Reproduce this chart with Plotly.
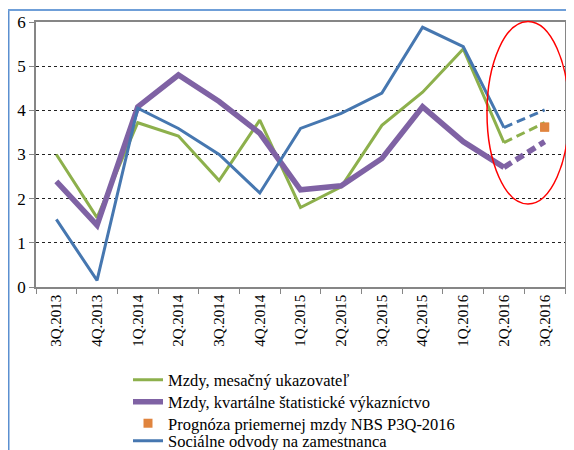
import plotly.graph_objects as go

quarters = ["3Q.2013", "4Q.2013", "1Q.2014", "2Q.2014", "3Q.2014", "4Q.2014",
            "1Q.2015", "2Q.2015", "3Q.2015", "4Q.2015", "1Q.2016", "2Q.2016", "3Q.2016"]

mzdy_mesacny = [3.0, 1.57, 3.72, 3.42, 2.41, 3.78, 1.8, 2.27, 3.66, 4.41, 5.39, 3.27, 3.72]
mzdy_kvartalne = [2.39, 1.4, 4.08, 4.8, 4.2, 3.48, 2.2, 2.29, 2.91, 4.08, 3.29, 2.71, 3.29]
socialne_odvody = [1.53, 0.15, 4.05, 3.59, 3.0, 2.13, 3.59, 3.93, 4.39, 5.88, 5.44, 3.61, 4.01]
prognoza_q = ["3Q.2016"]
prognoza_val = [3.62]

GREEN = "#8db04c"
PURPLE = "#7f62a4"
BLUE = "#4677b0"
ORANGE = "#e0843e"
SERIF = "Liberation Serif, Times New Roman, Times, serif"

n_solid = 12  # observed quarters; last segment is a dashed forecast

# page offset (browser body margin)
OFF = 8
W, H = 574 - OFF, 450 - OFF
# plot area in page pixels
PL, PR, PT, PB = 36, 565, 22, 287
L, R, T, B = PL - OFF, W - (PR - OFF), PT - OFF, H - (PB - OFF)
pw, ph = W - L - R, H - T - B

def px(x):
    return (x - OFF - L) / pw

def py(y):
    return (H - B - (y - OFF)) / ph

fig = go.Figure()

fig.add_trace(go.Scatter(x=quarters[:n_solid], y=mzdy_mesacny[:n_solid], mode="lines",
                         line=dict(color=GREEN, width=3), name="Mzdy, mesačný ukazovateľ",
                         legend="legend"))
fig.add_trace(go.Scatter(x=quarters[:n_solid], y=mzdy_kvartalne[:n_solid], mode="lines",
                         line=dict(color=PURPLE, width=5.5), name="Mzdy, kvartálne štatistické výkazníctvo",
                         legend="legend2"))
fig.add_trace(go.Scatter(x=prognoza_q, y=prognoza_val, mode="markers",
                         marker=dict(color=ORANGE, symbol="square", size=9),
                         name="Prognóza priemernej mzdy NBS P3Q-2016", legend="legend3"))
fig.add_trace(go.Scatter(x=quarters[:n_solid], y=socialne_odvody[:n_solid], mode="lines",
                         line=dict(color=BLUE, width=3), name="Sociálne odvody na zamestnanca",
                         legend="legend4"))

for vals, col, w in [(socialne_odvody, BLUE, 3), (mzdy_mesacny, GREEN, 3), (mzdy_kvartalne, PURPLE, 5.5)]:
    fig.add_trace(go.Scatter(x=quarters[n_solid - 1:], y=vals[n_solid - 1:], mode="lines",
                             line=dict(color=col, width=w, dash="9px,5px"), showlegend=False,
                             hoverinfo="skip"))

fig.add_trace(go.Scatter(x=prognoza_q, y=prognoza_val, mode="markers",
                         marker=dict(color=ORANGE, symbol="square", size=9), showlegend=False))

shapes = [
    dict(type="circle", xref="paper", yref="paper",
         x0=px(487), x1=px(569), y0=py(204), y1=py(21.5),
         line=dict(color="#ff0000", width=1.5)),
    dict(type="line", xref="paper", yref="paper", x0=px(8.5), x1=px(8.5), y0=py(10), y1=py(470),
         line=dict(color="#5b8fd0", width=2)),
    dict(type="line", xref="paper", yref="paper", x0=px(8), x1=px(590), y0=py(10), y1=py(10),
         line=dict(color="#6f9fd8", width=2)),
]

def leg(yc):
    return dict(x=px(128), y=py(yc), xanchor="left", yanchor="middle",
                font=dict(family=SERIF, size=16.5, color="black"),
                bgcolor="rgba(0,0,0,0)", borderwidth=0, itemwidth=30)

fig.update_layout(
    width=W, height=H,
    margin=dict(l=L, r=R, t=T, b=B, autoexpand=False),
    paper_bgcolor="white", plot_bgcolor="white",
    font=dict(family=SERIF, color="black"),
    showlegend=True,
    legend=leg(380), legend2=leg(402), legend3=leg(423.5), legend4=leg(441),
    shapes=shapes,
    xaxis=dict(type="category", categoryorder="array", categoryarray=quarters,
               showgrid=False, tickson="boundaries", ticks="outside", ticklen=5,
               tickcolor="#868686", tickangle=-90, automargin=False,
               tickfont=dict(family=SERIF, size=15, color="black"),
               showline=True, linecolor="#868686", linewidth=1.5, mirror=True,
               range=[-0.5, 12.5], fixedrange=True),
    yaxis=dict(range=[0, 6], tickvals=[0, 1, 2, 3, 4, 5, 6], automargin=False,
               showgrid=True, gridcolor="#222222", griddash="dot", gridwidth=1,
               zeroline=False, ticks="outside", ticklen=5, tickcolor="#868686",
               tickfont=dict(family=SERIF, size=17, color="black"),
               showline=True, linecolor="#868686", linewidth=1.5, mirror=True,
               fixedrange=True),
)

fig.write_html("out.html")
